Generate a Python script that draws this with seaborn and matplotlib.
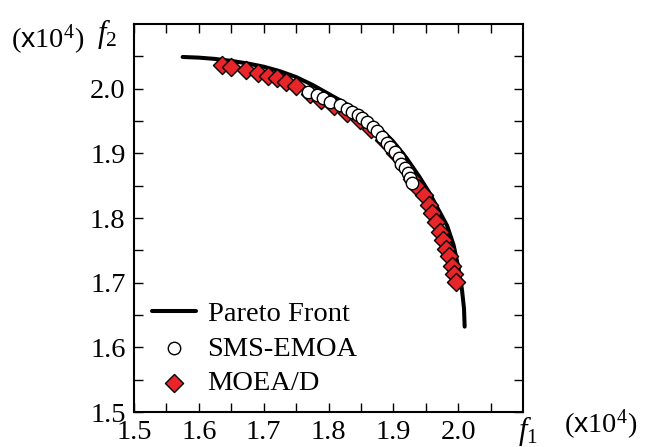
import matplotlib
matplotlib.use("Agg")
import matplotlib.pyplot as plt
import seaborn as sns
import pandas as pd
import numpy as np

# ---- data (units of 1e4) ----
front_f1 = [1.575, 1.600, 1.625, 1.650, 1.675, 1.700, 1.725, 1.750, 1.775, 1.800,
            1.825, 1.850, 1.875, 1.900, 1.920, 1.940, 1.955, 1.970, 1.983, 1.993,
            2.001, 2.006, 2.009, 2.010]
front_f2 = [2.049, 2.048, 2.046, 2.043, 2.039, 2.034, 2.027, 2.018, 2.006, 1.992,
            1.978, 1.962, 1.943, 1.918, 1.893, 1.864, 1.840, 1.812, 1.788, 1.758,
            1.720, 1.688, 1.660, 1.632]

sms_f1 = [1.768, 1.782, 1.792, 1.803, 1.817, 1.828, 1.837, 1.845, 1.852, 1.860, 1.868,
          1.875, 1.883, 1.891, 1.895, 1.902, 1.908, 1.912, 1.918, 1.923, 1.926, 1.929]
sms_f2 = [1.995, 1.990, 1.985, 1.980, 1.974, 1.968, 1.964, 1.959, 1.954, 1.948, 1.940,
          1.934, 1.925, 1.916, 1.910, 1.902, 1.893, 1.883, 1.877, 1.869, 1.862, 1.854]

moead_f1 = [1.635, 1.650, 1.673, 1.691, 1.706, 1.720, 1.735, 1.750, 1.771, 1.789,
            1.809, 1.829, 1.848, 1.866, 1.885, 1.902, 1.917, 1.929, 1.938, 1.948,
            1.955, 1.960, 1.966, 1.972, 1.977, 1.982, 1.986, 1.991, 1.994, 1.997]
moead_f2 = [2.037, 2.034, 2.029, 2.024, 2.019, 2.016, 2.011, 2.004, 1.991, 1.982,
            1.973, 1.962, 1.951, 1.937, 1.920, 1.900, 1.880, 1.860, 1.846, 1.835,
            1.820, 1.808, 1.794, 1.778, 1.766, 1.752, 1.741, 1.726, 1.713, 1.701]

x_ticks = [1.5, 1.6, 1.7, 1.8, 1.9, 2.0]
y_ticks = [1.5, 1.6, 1.7, 1.8, 1.9, 2.0]

front = pd.DataFrame({"f1": front_f1, "f2": front_f2})
sms = pd.DataFrame({"f1": sms_f1, "f2": sms_f2})
moead = pd.DataFrame({"f1": moead_f1, "f2": moead_f2})

sns.set_style("ticks")
plt.rcParams["font.family"] = ["Liberation Serif", "DejaVu Serif"]
plt.rcParams["mathtext.fontset"] = "custom"
plt.rcParams["mathtext.rm"] = "Liberation Serif"
plt.rcParams["mathtext.it"] = "Liberation Serif:italic"
plt.rcParams["mathtext.sf"] = "Liberation Sans"
plt.rcParams["text.color"] = "black"
plt.rcParams["axes.labelcolor"] = "black"
plt.rcParams["xtick.color"] = "black"
plt.rcParams["ytick.color"] = "black"
plt.rcParams["axes.edgecolor"] = "black"

FS = 20.5

fig = plt.figure(figsize=(6.57, 4.47), dpi=100)
ax = fig.add_axes([134/657, 35/447, 389/657, 388/447])

sns.lineplot(data=front, x="f1", y="f2", sort=False, color="black", lw=2.9,
             ax=ax, label="Pareto Front", zorder=2)
sns.scatterplot(data=moead, x="f1", y="f2", marker="D", s=85, color="#e8262a",
                edgecolor="black", linewidth=1.0, ax=ax, label="MOEA/D", zorder=3)
sns.scatterplot(data=sms, x="f1", y="f2", marker="o", s=80, color="white",
                edgecolor="black", linewidth=1.0, ax=ax, label="SMS-EMOA", zorder=4)

ax.set_xlim(1.5, 2.1)
ax.set_ylim(1.5, 2.1)
ax.set_xticks(x_ticks)
ax.set_yticks(y_ticks)
ax.set_xticklabels([f"{v:.1f}" for v in x_ticks])
ax.set_yticklabels([f"{v:.1f}" for v in y_ticks])
ax.set_xticks(np.arange(1.55, 2.1, 0.1), minor=True)
ax.set_yticks(np.arange(1.55, 2.1, 0.1), minor=True)
ax.set_xlabel("")
ax.set_ylabel("")
ax.tick_params(which="both", direction="in", top=True, right=True,
               length=6.5, width=1.0, labelsize=FS, pad=6, colors="black")
for sp in ax.spines.values():
    sp.set_linewidth(1.5)
    sp.set_color("black")
    sp.set_visible(True)

h, l = ax.get_legend_handles_labels()
order = [l.index("Pareto Front"), l.index("SMS-EMOA"), l.index("MOEA/D")]
ax.legend([h[i] for i in order], [l[i] for i in order], loc="upper left",
          bbox_to_anchor=(0.045, 0.285), frameon=False, fontsize=FS,
          handlelength=1.55, handletextpad=0.42, labelspacing=0.3,
          borderpad=0, borderaxespad=0, labelcolor="black")

fig.text(48/657, 1-40/447, r"($\mathsf{x}$10$^4$)", fontsize=FS, ha="center", va="center", color="black")
fig.text(107/657, 1-34/447, r"$f_2$", fontsize=22, ha="center", va="center", color="black")
fig.text(528/657, 1-431/447, r"$f_1$", fontsize=22, ha="center", va="center", color="black")
fig.text(601/657, 1-425/447, r"($\mathsf{x}$10$^4$)", fontsize=FS, ha="center", va="center", color="black")

fig.savefig("out.png", dpi=100)
